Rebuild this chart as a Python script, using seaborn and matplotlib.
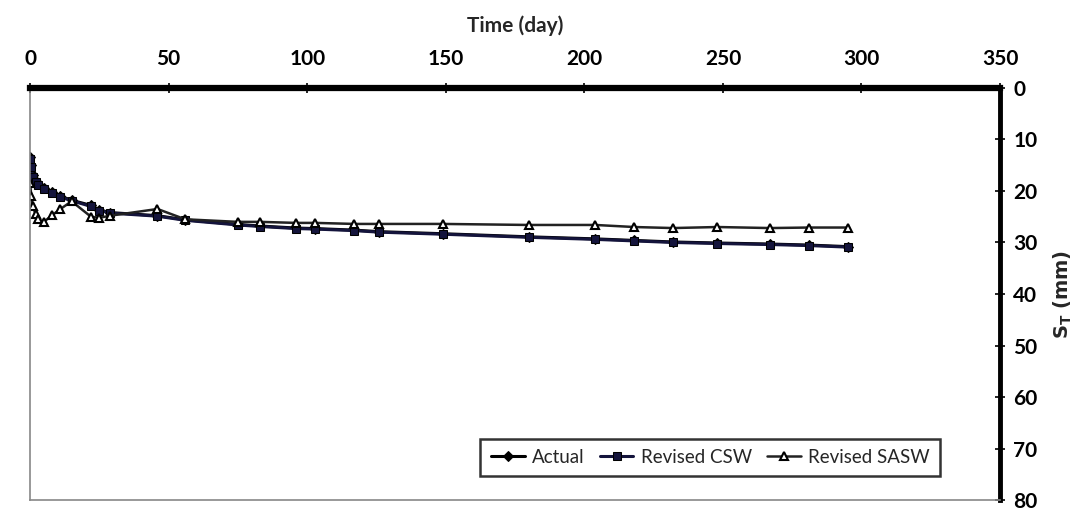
import pandas as pd
import matplotlib.pyplot as plt
import seaborn as sns

# Time (day) of each reading
days = [0, 0.5, 1, 2, 3, 5, 8, 11, 15, 22, 25, 29, 46, 56, 75, 83, 96, 103,
        117, 126, 149, 180, 204, 218, 232, 248, 267, 281, 295]

# settlement S_T (mm)
actual = [13.5, 15.0, 17.0, 18.0, 18.6, 19.5, 20.2, 21.0, 21.8, 22.8, 23.7, 24.2,
          24.8, 25.6, 26.5, 26.8, 27.2, 27.3, 27.6, 27.9, 28.3, 28.9, 29.3, 29.6,
          29.9, 30.1, 30.3, 30.5, 30.8]
revised_csw = [13.8, 15.3, 17.2, 18.2, 18.8, 19.7, 20.4, 21.2, 21.9, 23.0, 23.8, 24.3,
               24.9, 25.7, 26.6, 26.9, 27.3, 27.4, 27.7, 28.0, 28.4, 29.0, 29.4, 29.7,
               30.0, 30.2, 30.4, 30.6, 30.9]
revised_sasw = [18.5, 21.0, 23.0, 24.5, 25.5, 26.0, 24.7, 23.5, 22.0, 25.0, 25.2, 24.8,
                23.5, 25.5, 26.0, 26.0, 26.2, 26.2, 26.4, 26.4, 26.4, 26.6, 26.6, 27.0,
                27.2, 27.0, 27.2, 27.1, 27.1]

x_ticks = [0, 50, 100, 150, 200, 250, 300, 350]
y_ticks = [0, 10, 20, 30, 40, 50, 60, 70, 80]

df = pd.DataFrame({'day': days, 'Actual': actual, 'Revised CSW': revised_csw,
                   'Revised SASW': revised_sasw})

sns.set_theme(style="white")
plt.rcParams['font.family'] = ['Lato', 'DejaVu Sans']
plt.rcParams['mathtext.fontset'] = 'dejavusans'

fig = plt.figure(figsize=(10.87, 5.14), dpi=100)
ax = fig.add_axes([0.0276, 0.027, 0.8924, 0.802])

sns.lineplot(data=df, x='day', y='Actual', ax=ax, color='black', lw=2.2,
             marker='D', markersize=5, markeredgecolor='black', label='Actual')
sns.lineplot(data=df, x='day', y='Revised CSW', ax=ax, color='#14143c', lw=2.2,
             marker='s', markersize=6, markeredgecolor='black', label='Revised CSW')
sns.lineplot(data=df, x='day', y='Revised SASW', ax=ax, color='#222222', lw=1.8,
             marker='^', markersize=6, markerfacecolor='white',
             markeredgecolor='black', markeredgewidth=1.5, label='Revised SASW')

ax.set_xlim(0, 350)
ax.set_ylim(80, 0)
ax.set_xticks(x_ticks)
ax.set_yticks(y_ticks)
ax.xaxis.tick_top()
ax.xaxis.set_label_position('top')
ax.yaxis.tick_right()
ax.yaxis.set_label_position('right')

ax.set_xlabel('Time (day)', fontsize=15, fontweight='bold', labelpad=12)
ax.set_ylabel('$\\mathbf{S_T\\ (mm)}$', fontsize=14, labelpad=10)

ax.tick_params(axis='both', labelsize=15, direction='inout', length=7, width=1.2,
               colors='black')
ax.tick_params(axis='x', pad=10)
ax.tick_params(axis='y', pad=6)
for lbl in ax.get_xticklabels() + ax.get_yticklabels():
    lbl.set_fontweight('bold')

ax.spines['top'].set_linewidth(4.5)
ax.spines['top'].set_color('black')
ax.spines['right'].set_linewidth(3.5)
ax.spines['right'].set_color('black')
ax.spines['left'].set_linewidth(1.2)
ax.spines['left'].set_color('#888888')
ax.spines['bottom'].set_linewidth(1.2)
ax.spines['bottom'].set_color('#888888')

leg = ax.legend(loc='lower right', bbox_to_anchor=(0.948, 0.035), ncol=3,
                fontsize=13.5, frameon=True, fancybox=False, handlelength=1.8,
                columnspacing=0.8, handletextpad=0.4, borderpad=0.55)
leg.get_frame().set_edgecolor('black')
leg.get_frame().set_linewidth(1.8)

fig.savefig('out.png', dpi=100)
